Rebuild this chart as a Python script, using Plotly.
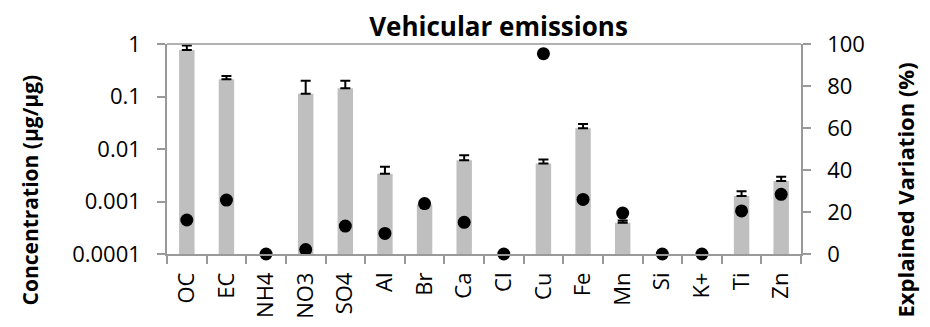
import plotly.graph_objects as go

# Species profile for the vehicular emissions factor
species = ["OC", "EC", "NH4", "NO3", "SO4", "Al", "Br", "Ca", "Cl", "Cu",
           "Fe", "Mn", "Si", "K+", "Ti", "Zn"]

# Concentration (µg/µg); None where nothing is apportioned
concentration = [0.77, 0.212, None, 0.113, 0.143, 0.00339, 0.00088, 0.0061, None,
                 0.0053, 0.0248, 0.000395, None, None, 0.00127, 0.00245]

# Upper uncertainty on concentration
conc_error = [0.17, 0.034, 0, 0.087, 0.057, 0.0012, 0.0, 0.0015, 0,
              0.001, 0.005, 0.00004, 0, 0, 0.0003, 0.0005]

# Explained variation (%)
explained = [16.2, 25.7, 0, 2.1, 13.3, 9.8, 24.0, 15.1, 0, 95.4,
             26.0, 19.5, 0, 0, 20.5, 28.4]

left_ticks = [0.0001, 0.001, 0.01, 0.1, 1]
left_ticktext = ["0.0001", "0.001", "0.01", "0.1", "1"]
right_ticks = [0, 20, 40, 60, 80, 100]

AXIS_GREY = "#999999"
FONT = "Open Sans"

fig = go.Figure()

fig.add_trace(go.Bar(
    x=species, y=concentration,
    marker=dict(color="#BFBFBF", line=dict(width=0)),
    width=0.39,
    error_y=dict(type="data", symmetric=False, array=conc_error,
                 arrayminus=[0] * len(conc_error),
                 color="black", thickness=2, width=5),
    yaxis="y", showlegend=False,
))

fig.add_trace(go.Scatter(
    x=species, y=explained, mode="markers",
    marker=dict(color="black", size=13),
    yaxis="y2", cliponaxis=False, showlegend=False,
))

axis_common = dict(
    showline=True, linecolor=AXIS_GREY, linewidth=1.5,
    ticks="outside", ticklen=8, tickcolor=AXIS_GREY, tickwidth=1.5,
    showgrid=False, zeroline=False, automargin=False,
    tickfont=dict(family=FONT, size=22, color="black"),
)

fig.update_layout(
    width=930, height=327,
    margin=dict(l=167, r=129, t=44, b=73),
    paper_bgcolor="white", plot_bgcolor="white",
    font=dict(family=FONT, size=22, color="black"),
    title=dict(text="<b>Vehicular emissions</b>", xref="container",
               x=498.5 / 930, xanchor="center", yref="container", y=1 - 27 / 327,
               yanchor="middle", font=dict(family=FONT, size=26, color="black")),
    xaxis=dict(type="category", range=[-0.5, len(species) - 0.5],
               tickson="boundaries", tickangle=-90, ticklabelstandoff=8,
               **axis_common),
    yaxis=dict(type="log", range=[-4, 0], tickvals=left_ticks,
               ticktext=left_ticktext, ticklabelstandoff=12, **axis_common),
    yaxis2=dict(overlaying="y", side="right", range=[0, 100],
                tickvals=right_ticks, ticklabelstandoff=12, **axis_common),
    bargap=0.61,
    shapes=[dict(type="line", xref="paper", yref="paper", x0=0, x1=1, y0=1, y1=1,
                 line=dict(color=AXIS_GREY, width=1.5))],
    annotations=[
        dict(text="<b>Concentration (µg/µg)</b>", xref="paper", yref="paper",
             x=(29 - 167) / 634, y=(254 - 190.5) / 210, xanchor="center",
             yanchor="middle", textangle=-90, showarrow=False,
             font=dict(family=FONT, size=21, color="black")),
        dict(text="<b>Explained Variation (%)</b>", xref="paper", yref="paper",
             x=(904 - 167) / 634, y=(254 - 190.5) / 210, xanchor="center",
             yanchor="middle", textangle=-90, showarrow=False,
             font=dict(family=FONT, size=22, color="black")),
    ],
)

fig.write_html("out.html")
